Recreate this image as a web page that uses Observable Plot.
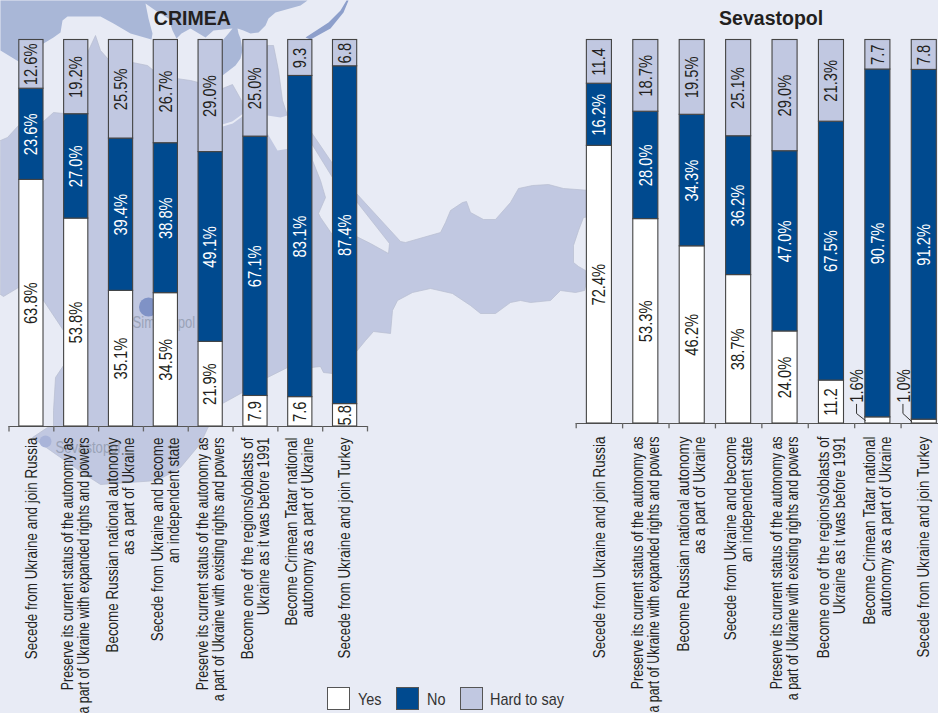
<!DOCTYPE html>
<html>
<head>
<meta charset="utf-8">
<script src="https://cdn.jsdelivr.net/npm/d3@7"></script>
<script src="https://cdn.jsdelivr.net/npm/@observablehq/plot@0.6"></script>
<style>
html,body{margin:0;padding:0;background:#e8ebf5;}
#page{position:relative;width:938px;height:713px;overflow:hidden;background:#e8ebf5;}
#page svg{position:absolute;left:0;top:0;background:transparent;overflow:hidden;}
.lg{position:absolute;top:687px;width:21px;height:21px;border:1px solid #555;}
.lt{position:absolute;top:690px;font:17px "Liberation Sans",sans-serif;color:#333;line-height:20px;transform:scaleX(0.85);transform-origin:left center;white-space:nowrap;}
</style>
</head>
<body>
<div id="page"></div>
<script>
const categories = [
  "Secede from Ukraine and join Russia",
  "Preserve its current status of the autonomy as\na part of Ukraine with expanded rights and powers",
  "Become Russian national autonomy\nas a part of Ukraine",
  "Secede from Ukraine and become\nan independent state",
  "Preserve its current status of the autonomy as\na part of Ukraine with existing rights and powers",
  "Become one of the regions/oblasts of\nUkraine as it was before 1991",
  "Become Crimean Tatar national\nautonomy as a part of Ukraine",
  "Secede from Ukraine and join Turkey"
];
const answers = ["Yes", "No", "Hard to say"];
const crimeaYes  = [63.8, 53.8, 35.1, 34.5, 21.9, 7.9, 7.6, 5.8];
const crimeaNo   = [23.6, 27.0, 39.4, 38.8, 49.1, 67.1, 83.1, 87.4];
const crimeaHard = [12.6, 19.2, 25.5, 26.7, 29.0, 25.0, 9.3, 6.8];
const sevYes  = [72.4, 53.3, 46.2, 38.7, 24.0, 11.2, 1.6, 1.0];
const sevNo   = [16.2, 28.0, 34.3, 36.2, 47.0, 67.5, 90.7, 91.2];
const sevHard = [11.4, 18.7, 19.5, 25.1, 29.0, 21.3, 7.7, 7.8];

// decorative background map outlines
const mapWater = [[0,0],[307,0],[300,5],[275,12],[268,18],[265,25],[258,32],[250,33],[243,30],[237,28],[238,33],[240,38],[242,50],[240,58],[235,65],[222,75],[206,62],[206,45],[222,40],[228,33],[232,28],[213,30],[205,37],[190,28],[181,33],[176,38],[172,30],[168,18],[155,10],[145,3],[148,18],[152,33],[151,39],[130,33],[113,23],[100,16],[87,16],[67,16],[62,20],[60,32],[53,37],[43,43],[18,61],[0,50],[0,0]];
const mapStreak = [[346,0],[340,10],[328,22],[305,37],[310,39],[330,28],[343,12],[348,0],[346,0]];
const mapLand = [[0,140],[7,137],[18,125],[43,121],[53,112],[63,113],[88,50],[95,35],[100,50],[108,59],[132,62],[147,65],[153,70],[176,78],[190,80],[198,82],[222,88],[232,84],[241,100],[243,112],[267,45],[273,45],[278,70],[282,100],[287,115],[311,132],[332,163],[356,193],[400,241],[405,242],[440,232],[445,222],[450,210],[462,202],[466,201],[470,212],[483,219],[495,219],[510,202],[518,188],[532,185],[548,184],[563,188],[590,190],[590,216],[583,217],[578,230],[573,245],[573,262],[578,266],[585,270],[586,282],[584,290],[575,292],[560,290],[550,300],[530,302],[520,300],[510,302],[495,313],[480,313],[470,305],[452,293],[430,288],[412,292],[397,300],[392,310],[390,333],[373,331],[365,340],[356,351],[332,373],[323,372],[320,366],[311,367],[287,367],[267,377],[242,392],[222,403],[207,428],[200,443],[180,467],[157,480],[100,484],[83,473],[50,450],[32,437],[47,427],[53,427],[53,410],[55,377],[63,365],[63,330],[43,300],[18,287],[3,296],[0,294],[0,140]];
const mapLagoon = [[311,143],[332,177],[356,201],[389,243],[388,253],[370,243],[356,236],[331,233],[320,217],[318,213],[325,197],[320,180],[312,160],[311,143]];
const mapBay = [[267,115],[280,117],[287,115],[295,130],[295,147],[277,150],[267,133],[267,115]];
const mapShore = [[222,125],[232,122],[243,114]];
const cities = [
  {name:"Simferopol", x:148, y:306.5, r:9.5, lx:132, ly:322, dot:"#7f92c6"},
  {name:"Sevastopol", x:45, y:441, r:6, lx:55, ly:447, dot:"#a9b4d9"}
];

const sans = '"Liberation Sans",sans-serif';
const colors = {"Yes":"#ffffff","No":"#004a8f","Hard to say":"#c1c8e1"};
const inset = 0.23;
const page = document.getElementById("page");
const poly = r => ({type:"Polygon",coordinates:[r]});

// Helvetica-Narrow look: condense every text of the given selector along its own direction
function condense(svg, selector) {
  svg.querySelectorAll(selector).forEach(t => {
    const s = t.textContent;
    const k = s.startsWith("Preserve") ? 0.775 : s.length > 12 ? 0.84 : 0.82;
    const tr = t.getAttribute("transform") || "";
    t.setAttribute("transform", tr + ` scale(${k},1)`);
  });
  return svg;
}

page.append(condense(Plot.plot({
  width:938,height:713,margin:0,
  projection:{type:"identity"},
  marks:[
    Plot.geo([poly(mapWater)],{fill:"#a9b7d7",stroke:"none"}),
    Plot.geo([poly(mapStreak)],{fill:"#8d9fcb",stroke:"none"}),
    Plot.geo([poly(mapLand)],{fill:"#c1c8e1",stroke:"#b8bdd0",strokeWidth:0.7}),
    Plot.geo([poly(mapLagoon)],{fill:"#e8ebf5",stroke:"#b8bdd0",strokeWidth:0.7}),
    Plot.geo([poly(mapBay)],{fill:"#e8ebf5",stroke:"none"}),
    Plot.geo([{type:"LineString",coordinates:mapShore}],{stroke:"#e8ebf5",strokeWidth:2,fill:"none"}),
    Plot.dot(cities,{x:"x",y:"y",r:"r",fill:d=>d.dot,stroke:"none"}),
    Plot.text(cities,{x:"lx",y:"ly",text:"name",textAnchor:"start",fill:"#9aa3b8",fontSize:16,fontFamily:sans})
  ],
  r:{type:"identity"},
  color:{type:"identity"},
  style:{background:"transparent"}
}), "text"));

function panel({title,yes,no,hard,range,yRange,titleX,labelDy,tickDown,callouts}) {
  const rows = categories.flatMap((c,i)=>[
    {i,answer:"Yes",value:yes[i]},
    {i,answer:"No",value:no[i]},
    {i,answer:"Hard to say",value:hard[i]}
  ]);
  const label = d => {
    if (d.value < 2) return "";
    return d.value.toFixed(1) + (d.value < 12 ? "" : "%");
  };
  const stack = o => Plot.stackY({x1:d=>d.i+inset,x2:d=>d.i+1-inset,y:"value",order:answers,...o});
  return condense(Plot.plot({
    width:938,height:713,
    x:{domain:[0,8],range,axis:null},
    y:{domain:[0,100],range:yRange,axis:null},
    color:{type:"identity"},
    style:{background:"transparent"},
    marks:[
      Plot.ruleY([0],{x1:0,x2:8,stroke:"#555",strokeWidth:1.2}),
      Plot.ruleX(d3.range(9),{y1:0,y2:tickDown,stroke:"#666",strokeWidth:1.3}),
      Plot.rectY(rows,stack({fill:d=>colors[d.answer],stroke:"#444",strokeWidth:1.1})),
      Plot.text(rows,Plot.stackY({x:d=>d.i+0.5,y:"value",order:answers,text:label,rotate:-90,
        fill:d=>d.answer==="No"?"#ffffff":"#231f20",fontSize:18,fontFamily:sans})),
      Plot.text(categories,{x:(d,i)=>i+0.5,y:()=>0,dy:labelDy,text:d=>d,rotate:-90,textAnchor:"end",lineHeight:1,
        fill:"#231f20",fontSize:16,fontFamily:sans}),
      Plot.text(callouts,{x:d=>d.i+0.06,y:()=>5.4,text:d=>d.value.toFixed(1)+"%",rotate:-90,textAnchor:"start",
        fill:"#231f20",fontSize:18,fontFamily:sans}),
      ...callouts.map(d=>Plot.line([[d.i+0.04,5],[d.i+0.04,2.6],[d.i+inset,d.value/2]],{stroke:"#333",strokeWidth:1})),
      Plot.text([title],{x:()=>titleX,y:()=>105.6,fontSize:19.5,fontWeight:"bold",
        fontFamily:sans,fill:"#231f20"})
    ]
  }), 'text[transform*="rotate"]');
}

page.append(panel({title:"CRIMEA",yes:crimeaYes,no:crimeaNo,hard:crimeaHard,
  range:[8.5,367],yRange:[426,39.5],titleX:4.09,labelDy:11,tickDown:-1.4,callouts:[]}));
page.append(panel({title:"Sevastopol",yes:sevYes,no:sevNo,hard:sevHard,
  range:[575.7,947],yRange:[423,39.5],titleX:4.2,labelDy:13,tickDown:-1.4,
  callouts:[{i:6,value:sevYes[6]},{i:7,value:sevYes[7]}]}));

const lgX = [327,396,460], ltX = [358,427,490];
answers.forEach((a,i)=>{
  const s=document.createElement("div");s.className="lg";s.style.left=lgX[i]+"px";s.style.background=colors[a];page.append(s);
  const t=document.createElement("div");t.className="lt";t.style.left=ltX[i]+"px";t.textContent=a;page.append(t);
});
</script>
</body>
</html>
